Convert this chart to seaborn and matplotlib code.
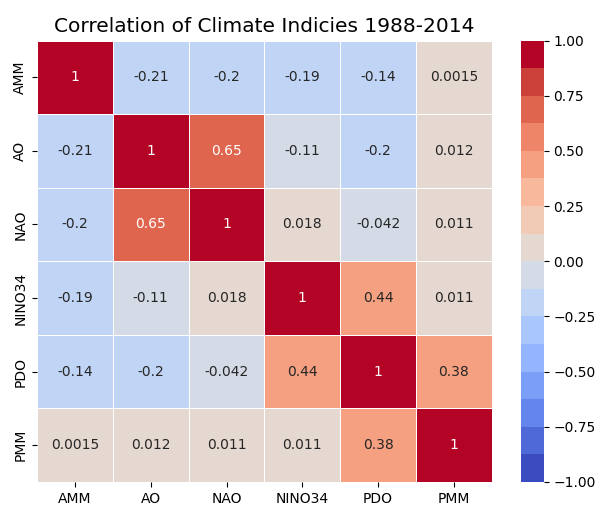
import numpy as np
import pandas as pd
import matplotlib
matplotlib.use("Agg")
import matplotlib.pyplot as plt
import seaborn as sns

labels = ["AMM", "AO", "NAO", "NINO34", "PDO", "PMM"]
row_amm = [1, -0.21, -0.2, -0.19, -0.14, 0.0015]
row_ao = [-0.21, 1, 0.65, -0.11, -0.2, 0.012]
row_nao = [-0.2, 0.65, 1, 0.018, -0.042, 0.011]
row_nino = [-0.19, -0.11, 0.018, 1, 0.44, 0.011]
row_pdo = [-0.14, -0.2, -0.042, 0.44, 1, 0.38]
row_pmm = [0.0015, 0.012, 0.011, 0.011, 0.38, 1]

corr = pd.DataFrame([row_amm, row_ao, row_nao, row_nino, row_pdo, row_pmm],
                    index=labels, columns=labels)

fig = plt.figure(figsize=(6, 5.08), dpi=100)
ax = fig.add_axes([0.0617, 0.0512, 0.758, 0.869])
cax = fig.add_axes([0.868, 0.0512, 0.0385, 0.869])
cmap = matplotlib.colormaps["coolwarm"].resampled(16)
sns.heatmap(corr, ax=ax, cbar_ax=cax, annot=True, vmin=-1, vmax=1,
            cmap=cmap, linewidths=0.5, linecolor="white")
ax.set_title("Correlation of Climate Indicies 1988-2014", fontsize=14.5)
fig.savefig("out.png", dpi=100)
